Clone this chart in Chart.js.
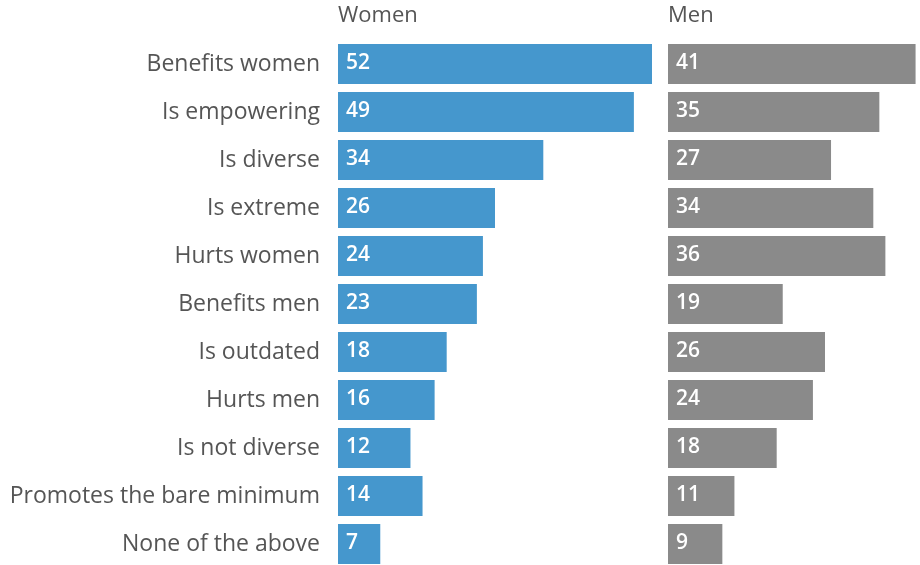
<!DOCTYPE html>
<html>
<head>
<meta charset="utf-8">
<script src="https://cdn.jsdelivr.net/npm/chart.js@4"></script>
<style>
  html, body { margin: 0; padding: 0; background: #fff; }
  #wrap { position: relative; width: 920px; height: 565px; overflow: hidden; }
  canvas { position: absolute; top: 0; }
  #women { left: 0; }
  #men { left: 660px; }
</style>
</head>
<body>
<div id="wrap">
  <canvas id="women" width="660" height="568"></canvas>
  <canvas id="men" width="260" height="568"></canvas>
</div>
<script>
const categories = [
  'Benefits women', 'Is empowering', 'Is diverse', 'Is extreme', 'Hurts women',
  'Benefits men', 'Is outdated', 'Hurts men', 'Is not diverse',
  'Promotes the bare minimum', 'None of the above'
];
const womenValues = [52, 49, 34, 26, 24, 23, 18, 16, 12, 14, 7];
const menValues = [41, 35, 27, 34, 36, 19, 26, 24, 18, 11, 9];

const FONT = '"Open Sans", sans-serif';
const PX_PER_UNIT = 314 / 52;

// panel heading + numbers written inside each bar
const barText = {
  id: 'barText',
  afterDatasetsDraw(chart, args, opts) {
    const ctx = chart.ctx;
    ctx.save();
    ctx.fillStyle = '#555';
    ctx.font = '22px ' + FONT;
    ctx.textBaseline = 'alphabetic';
    ctx.textAlign = 'left';
    ctx.fillText(opts.heading, chart.chartArea.left, 22);

    ctx.fillStyle = '#fff';
    ctx.font = '600 21px ' + FONT;
    ctx.textBaseline = 'middle';
    const meta = chart.getDatasetMeta(0);
    meta.data.forEach((bar, i) => {
      ctx.fillText(chart.data.datasets[0].data[i], bar.base + 8, bar.y - 1);
    });
    ctx.restore();
  }
};

function makeChart(id, values, color, heading, showLabels, max, padLeft, padRight) {
  return new Chart(document.getElementById(id), {
    type: 'bar',
    data: {
      labels: categories,
      datasets: [{
        data: values,
        backgroundColor: color,
        barPercentage: 1,
        categoryPercentage: 0.833,
      }]
    },
    options: {
      indexAxis: 'y',
      responsive: false,
      animation: false,
      layout: { padding: { top: 40, bottom: 0, left: padLeft, right: padRight } },
      plugins: {
        legend: { display: false },
        tooltip: { enabled: false },
        barText: { heading: heading },
      },
      scales: {
        x: { display: false, min: 0, max: max },
        y: {
          display: showLabels,
          grid: { display: false, drawTicks: false },
          border: { display: false },
          ticks: {
            color: '#555',
            padding: 18,
            font: { family: FONT, size: 23 },
          },
          afterFit(scale) {
            if (!showLabels) return;
            scale.width = 338;
            // labels sit inside the category bands, no extra room needed
            scale.paddingTop = 0;
            scale.paddingBottom = 0;
          },
        }
      }
    },
    plugins: [barText]
  });
}

makeChart('women', womenValues, '#4597cd', 'Women', true, 52, 0, 8);
makeChart('men', menValues, '#8a8a8a', 'Men', false, 252 / PX_PER_UNIT, 8, 0);
</script>
</body>
</html>
